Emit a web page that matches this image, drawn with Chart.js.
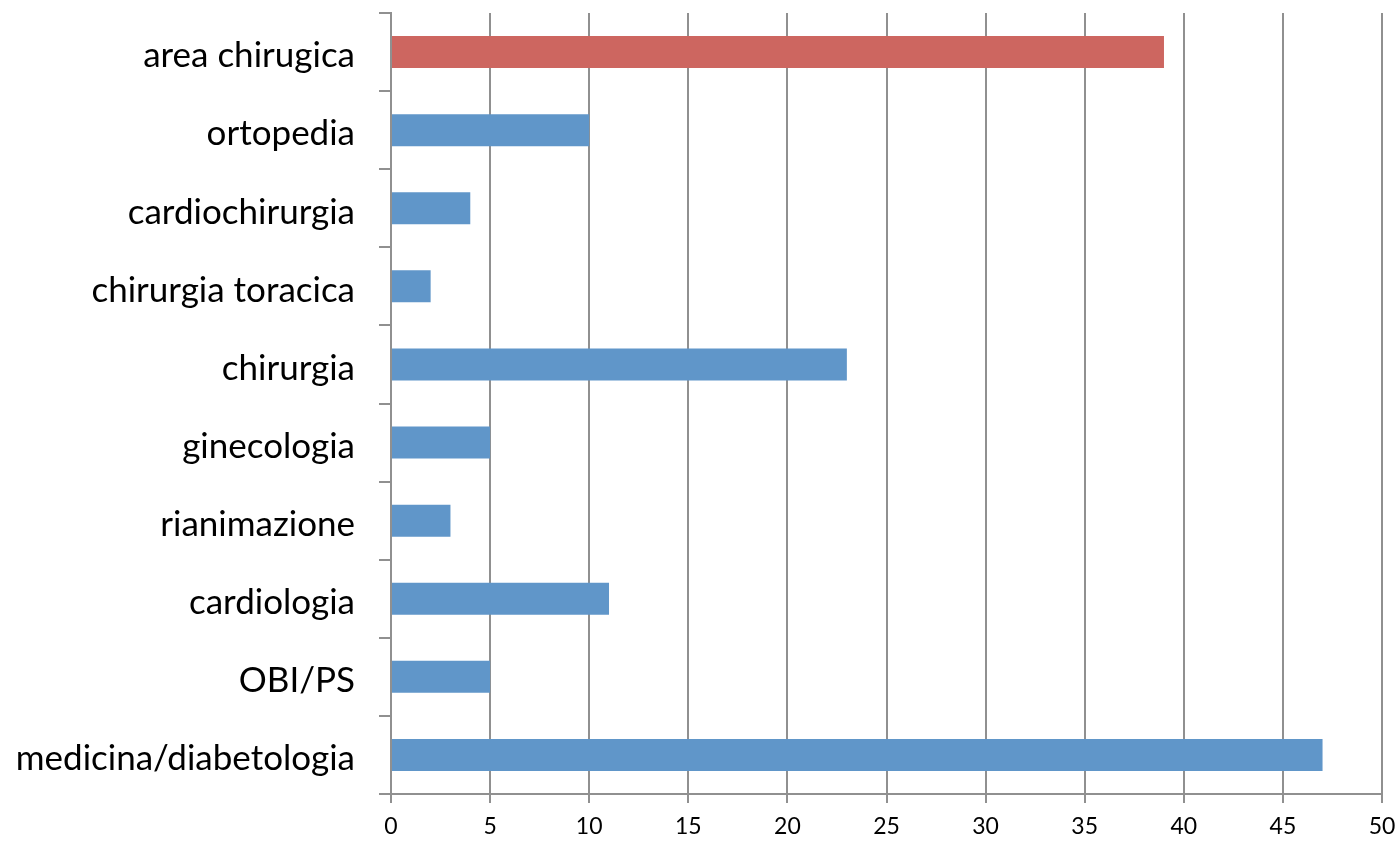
<!DOCTYPE html>
<html>
<head>
<meta charset="utf-8">
<script src="https://cdn.jsdelivr.net/npm/chart.js@4"></script>
<style>
  html, body { margin: 0; padding: 0; background: #fff; }
  #box { width: 1397px; height: 842px; }
</style>
</head>
<body>
<div id="box"><canvas id="grafico"></canvas></div>
<script>
// reparti (dall'alto verso il basso) e valori
const reparti = ['area chirugica', 'ortopedia', 'cardiochirurgia', 'chirurgia toracica', 'chirurgia',
  'ginecologia', 'rianimazione', 'cardiologia', 'OBI/PS', 'medicina/diabetologia'];
const valori = [39, 10, 4, 2, 23, 5, 3, 11, 5, 47];
const xMin = 0, xMax = 50, xPasso = 5;

// il primo reparto è evidenziato in rosso
const colori = reparti.map((r, i) => i === 0 ? '#CD6660' : '#6096C9');

const ctx = document.getElementById('grafico').getContext('2d');
new Chart(ctx, {
  type: 'bar',
  data: {
    labels: reparti,
    datasets: [{
      data: valori,
      backgroundColor: colori,
      borderWidth: 0,
      barPercentage: 0.41,
      categoryPercentage: 1
    }]
  },
  options: {
    indexAxis: 'y',
    responsive: true,
    maintainAspectRatio: false,
    animation: false,
    layout: { padding: { top: 13, right: 15, left: 0, bottom: 0 } },
    plugins: { legend: { display: false }, tooltip: { enabled: false } },
    scales: {
      x: {
        min: xMin, max: xMax,
        ticks: { stepSize: xPasso, color: '#000', padding: 10, font: { family: 'Lato', size: 23 } },
        grid: { color: '#909090', lineWidth: 2, tickLength: 9 },
        border: { color: '#909090', width: 2 },
        afterFit: s => { s.height = 48; s.paddingLeft = 0; s.paddingRight = 0; }
      },
      y: {
        ticks: { color: '#000', padding: 24, labelOffset: 4, font: { family: 'Lato', size: 35 } },
        grid: { offset: true, drawOnChartArea: false, color: '#909090', lineWidth: 2, tickLength: 12 },
        border: { color: '#909090', width: 2 },
        afterFit: s => { s.width = 391; s.paddingTop = 0; s.paddingBottom = 0; }
      }
    }
  }
});
</script>
</body>
</html>
